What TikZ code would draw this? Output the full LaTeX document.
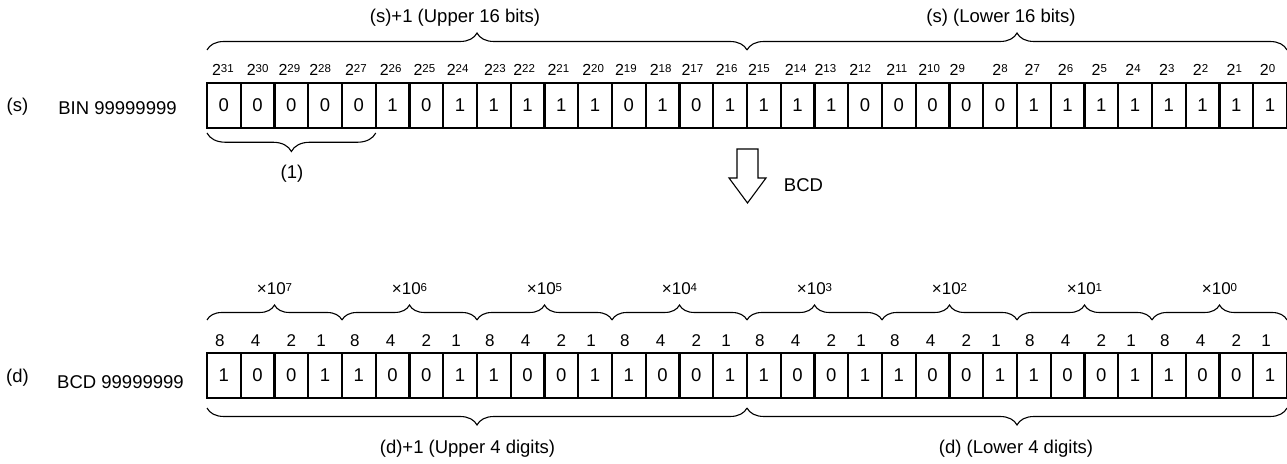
\documentclass[tikz,border=0pt]{standalone}
\usepackage{fontspec}
\setmainfont{Liberation Sans}
\usetikzlibrary{decorations.pathreplacing,calc}
\newcommand\upx[1]{\raisebox{3.6pt}{\fontsize{11.5}{11.5}\selectfont #1}}
\begin{document}
\begin{tikzpicture}[x=1pt,y=1pt,
  cell/.style={draw, line width=2.2pt, minimum width=33.75pt, minimum height=45pt,
    inner sep=0pt, outer sep=0pt, font=\fontsize{18.5}{18.5}\selectfont},
  lbl/.style={inner sep=0pt, anchor=base, font=\fontsize{18.5}{18.5}\selectfont},
  bitlbl/.style={inner sep=0pt, anchor=base, font=\fontsize{16}{16}\selectfont},
  wlbl/.style={inner sep=0pt, anchor=base, font=\fontsize{17}{17}\selectfont},
  brc/.style={decorate, decoration={brace, amplitude=#1}, line width=1.1pt},
  brm/.style={decorate, decoration={brace, amplitude=#1, mirror}, line width=1.1pt},
  arrowshape/.style={draw, line width=1.1pt, fill=white, line join=miter}
]
\useasboundingbox (0,0) rectangle (1287,463);

% left labels
\node[lbl] (slbl) at (17.5,351) {(s)};
\node[lbl] (binlbl) at (117.5,348.7) {BIN 99999999};
\node[lbl] (dlbl) at (17.5,80.5) {(d)};
\node[lbl] (bcdlbl) at (120.5,74.7) {BCD 99999999};

% top row cells
\foreach \v [count=\i from 0] in {0,0,0,0,0,1,0,1,1,1,1,1,0,1,0,1,1,1,1,0,0,0,0,0,1,1,1,1,1,1,1,1}
  \node[cell] (t\i) at ({207+33.75*\i+16.875},357.5) {\v};

% bit weight labels
\foreach \dx [count=\i from 0] in {-1,0,-2,-5,-3,-2,-2,-2.5,1,-3.5,-3,-2,-3,-2,-4,-3.5,-5,-2,-6,-5,-2,-3.5,-9,0,-1.5,-2,-2,-2,-2,-2,-2,-2.5}{
  \pgfmathtruncatemacro\e{31-\i}
  \node[bitlbl] (b\i) at ($(t\i.north)+(\dx,7)$) {2\upx{\e}};
}

% top braces
\draw[brc=17] ($(t0.north west)+(0,33)$) -- ($(t15.north east)+(0,33)$);
\draw[brc=17] ($(t16.north west)+(0,33)$) -- ($(t31.north east)+(0,33)$);
\node[lbl] (up16) at (455,440) {(s)+1 (Upper 16 bits)};
\node[lbl] (lo16) at (1001,440) {(s) (Lower 16 bits)};

% (1) brace
\draw[brm=18.5] ($(t0.south west)+(0,-5)$) -- ($(t4.south east)+(0,-5)$);
\node[lbl] (one) at (292,284) {(1)};

% conversion arrow
\coordinate (arr) at (747.5,314);
\draw[arrowshape] ($(arr)+(-10.5,0)$) -- ($(arr)+(-10.5,-29)$) -- ($(arr)+(-18.5,-29)$)
  -- ($(arr)+(0,-54)$) -- ($(arr)+(18.5,-29)$) -- ($(arr)+(10.5,-29)$)
  -- ($(arr)+(10.5,0)$) -- cycle;
\node[lbl] (bcdarr) at (803.5,271.3) {BCD};

% bottom row cells
\foreach \v [count=\i from 0] in {1,0,0,1,1,0,0,1,1,0,0,1,1,0,0,1,1,0,0,1,1,0,0,1,1,0,0,1,1,0,0,1}
  \node[cell] (d\i) at ({207+33.75*\i+16.875},87.5) {\v};

% BCD weights
\foreach \k in {0,...,7}{
  \foreach \w/\dx [count=\j from 0] in {8/-4,4/-2,2/0,1/-4}{
    \pgfmathtruncatemacro\idx{4*\k+\j}
    \node[wlbl] (w\idx) at ($(d\idx.north)+(\dx,6)$) {\w};
  }
  \pgfmathtruncatemacro\a{4*\k}
  \pgfmathtruncatemacro\b{4*\k+3}
  \pgfmathtruncatemacro\n{7-\k}
  \draw[brc=15] ($(d\a.north west)+(0,33)$) -- ($(d\b.north east)+(0,33)$);
  \node[wlbl] (x\k) at ($(d\a.north west)!0.5!(d\b.north east)+(0,58)$) {\texttimes10\upx{\n}};
}

% bottom braces
\draw[brm=17] ($(d0.south west)+(0,-10)$) -- ($(d15.south east)+(0,-10)$);
\draw[brm=17] ($(d16.south west)+(0,-10)$) -- ($(d31.south east)+(0,-10)$);
\node[lbl] (up4) at (467.5,10) {(d)+1 (Upper 4 digits)};
\node[lbl] (lo4) at (1016,10) {(d) (Lower 4 digits)};
\end{tikzpicture}
\end{document}
